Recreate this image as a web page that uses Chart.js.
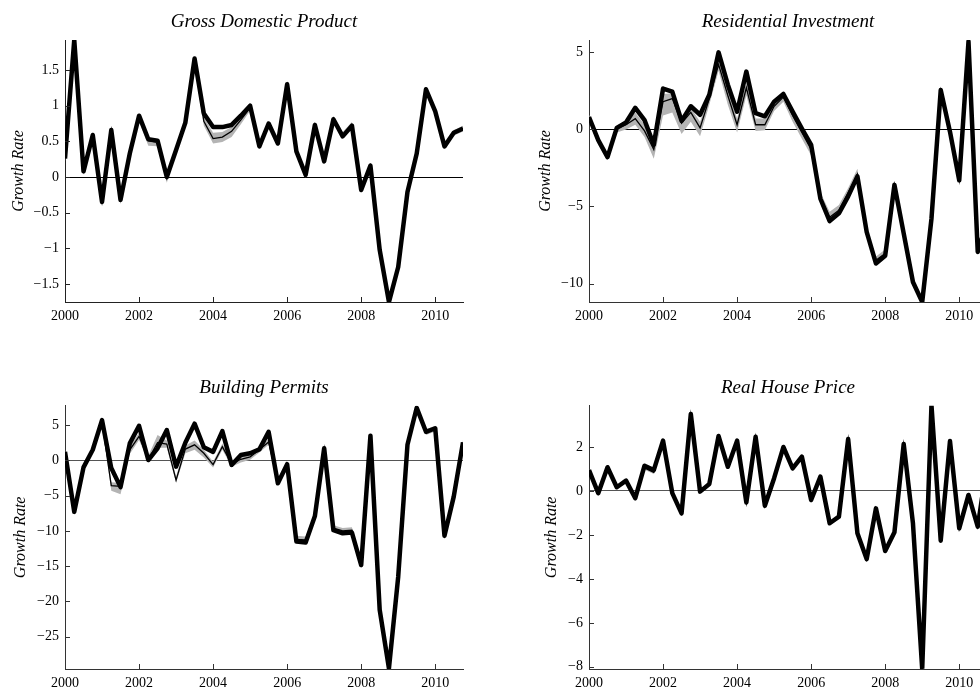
<!DOCTYPE html>
<html>
<head>
<meta charset="utf-8">
<script src="https://cdn.jsdelivr.net/npm/chart.js@4.4.1/dist/chart.umd.min.js"></script>
<style>
  html, body { margin: 0; padding: 0; background: #fff; }
  body { width: 980px; height: 691px; overflow: hidden; position: relative; }
  .panel { position: absolute; }
</style>
</head>
<body>
<div class="panel" style="left:0px;top:0px"><canvas id="c0" width="525" height="345"></canvas></div>
<div class="panel" style="left:524px;top:0px"><canvas id="c1" width="525" height="345"></canvas></div>
<div class="panel" style="left:0px;top:345px"><canvas id="c2" width="525" height="346"></canvas></div>
<div class="panel" style="left:524px;top:345px"><canvas id="c3" width="525" height="346"></canvas></div>
<script>
// Quarterly observations, 2000Q1 - 2010Q4
const quarters = [
  '2000Q1','2000Q2','2000Q3','2000Q4','2001Q1','2001Q2','2001Q3','2001Q4',
  '2002Q1','2002Q2','2002Q3','2002Q4','2003Q1','2003Q2','2003Q3','2003Q4',
  '2004Q1','2004Q2','2004Q3','2004Q4','2005Q1','2005Q2','2005Q3','2005Q4',
  '2006Q1','2006Q2','2006Q3','2006Q4','2007Q1','2007Q2','2007Q3','2007Q4',
  '2008Q1','2008Q2','2008Q3','2008Q4','2009Q1','2009Q2','2009Q3','2009Q4',
  '2010Q1','2010Q2','2010Q3','2010Q4'
];
const yearTicks = [2000, 2002, 2004, 2006, 2008, 2010];

// Gross Domestic Product
const gdpActual = [0.26, 1.92, 0.08, 0.59, -0.35, 0.66, -0.32, 0.33, 0.86, 0.53, 0.51, 0.00, 0.38, 0.76, 1.66, 0.89, 0.70, 0.70, 0.73, 0.86, 1.00, 0.43, 0.75, 0.47, 1.30, 0.36, 0.03, 0.73, 0.22, 0.81, 0.57, 0.72, -0.18, 0.16, -1.02, -1.75, -1.26, -0.21, 0.33, 1.23, 0.92, 0.43, 0.62, 0.68];
const gdpModel  = [0.26, 1.91, 0.09, 0.58, -0.34, 0.65, -0.30, 0.32, 0.84, 0.51, 0.49, -0.02, 0.38, 0.75, 1.62, 0.78, 0.54, 0.56, 0.64, 0.80, 0.97, 0.43, 0.75, 0.47, 1.28, 0.36, 0.03, 0.73, 0.23, 0.82, 0.59, 0.72, -0.18, 0.16, -1.02, -1.74, -1.26, -0.21, 0.33, 1.23, 0.92, 0.43, 0.62, 0.68];
const gdpLower  = [0.22, 1.87, 0.05, 0.54, -0.38, 0.61, -0.38, 0.28, 0.78, 0.44, 0.43, -0.08, 0.34, 0.71, 1.57, 0.72, 0.47, 0.49, 0.56, 0.74, 0.93, 0.39, 0.71, 0.43, 1.24, 0.32, -0.01, 0.69, 0.19, 0.78, 0.55, 0.68, -0.22, 0.12, -1.06, -1.78, -1.30, -0.25, 0.29, 1.19, 0.88, 0.39, 0.58, 0.64];
const gdpUpper  = [0.30, 1.95, 0.13, 0.62, -0.30, 0.69, -0.26, 0.36, 0.88, 0.55, 0.53, 0.02, 0.42, 0.79, 1.67, 0.84, 0.62, 0.63, 0.70, 0.86, 1.01, 0.47, 0.79, 0.51, 1.32, 0.40, 0.07, 0.77, 0.27, 0.86, 0.63, 0.77, -0.14, 0.20, -0.98, -1.70, -1.22, -0.17, 0.37, 1.27, 0.96, 0.47, 0.66, 0.72];
const gdpTicks  = [-1.5, -1, -0.5, 0, 0.5, 1, 1.5];
const gdpRange  = [-1.75, 1.92];

// Residential Investment
const resActual = [0.8, -0.7, -1.8, 0.1, 0.45, 1.4, 0.6, -1.0, 2.65, 2.45, 0.55, 1.5, 0.95, 2.25, 5.0, 2.9, 1.15, 3.75, 1.05, 0.85, 1.8, 2.3, 1.15, 0.05, -1.0, -4.5, -5.95, -5.45, -4.35, -3.05, -6.65, -8.7, -8.2, -3.6, -6.75, -9.9, -11.2, -5.8, 2.55, -0.15, -3.3, 5.7, -7.95, -6.0];
const resModel  = [0.75, -0.75, -1.8, 0.05, 0.3, 0.7, -0.1, -1.3, 1.8, 2.0, 0.4, 1.1, 0.1, 2.0, 4.2, 2.2, 0.3, 2.7, 0.3, 0.3, 1.5, 2.1, 0.9, -0.2, -1.3, -4.4, -5.7, -5.25, -4.1, -2.9, -6.6, -8.5, -8.05, -3.6, -6.7, -9.9, -11.15, -5.8, 2.5, -0.15, -3.3, 5.6, -7.8, -5.9];
const resLower  = [0.5, -1.0, -2.0, -0.2, 0.0, 0.3, -0.5, -1.9, 0.9, 1.1, -0.3, 0.5, -0.45, 1.6, 3.8, 1.6, -0.2, 2.2, -0.1, -0.05, 1.2, 1.8, 0.5, -0.6, -1.7, -4.7, -6.0, -5.5, -4.35, -3.1, -6.8, -8.7, -8.3, -3.75, -6.85, -10.05, -11.3, -5.95, 2.35, -0.3, -3.45, 5.45, -7.95, -6.05];
const resUpper  = [0.95, -0.55, -1.6, 0.25, 0.55, 1.1, 0.3, -0.9, 2.3, 2.35, 0.7, 1.4, 0.5, 2.3, 4.6, 2.6, 0.7, 3.1, 0.7, 0.7, 1.8, 2.35, 1.2, 0.1, -0.95, -4.1, -5.35, -4.9, -3.8, -2.55, -6.4, -8.25, -7.8, -3.45, -6.55, -9.75, -11.0, -5.65, 2.65, 0.0, -3.15, 5.75, -7.65, -5.75];
const resTicks  = [-10, -5, 0, 5];
const resRange  = [-11.2, 5.8];

// Building Permits
const bpActual = [1.2, -7.3, -1.0, 1.5, 5.7, -1.1, -3.8, 2.4, 4.9, 0.05, 1.7, 4.3, -0.9, 2.5, 5.2, 1.85, 1.2, 4.15, -0.65, 0.75, 1.0, 1.55, 4.05, -3.25, -0.55, -11.5, -11.65, -7.9, 1.7, -9.9, -10.35, -10.25, -14.85, 3.5, -21.2, -29.5, -16.5, 2.2, 7.45, 4.05, 4.55, -10.7, -5.15, 2.55];
const bpModel  = [1.1, -7.2, -0.9, 1.4, 5.5, -3.6, -3.7, 1.5, 3.4, 0.1, 2.5, 2.3, -2.8, 1.6, 2.2, 1.0, -0.6, 1.95, -0.5, 0.15, 0.5, 1.5, 2.6, -3.1, -0.5, -11.2, -11.3, -7.8, 1.6, -9.6, -10.0, -9.9, -14.7, 3.4, -21.1, -29.4, -16.4, 2.2, 7.4, 4.0, 4.5, -10.6, -5.1, 2.5];
const bpLower  = [0.6, -7.7, -1.3, 1.0, 5.0, -4.3, -4.8, 0.9, 2.9, -0.3, 1.8, 1.8, -3.2, 1.0, 1.5, 0.4, -1.0, 1.5, -0.9, -0.3, 0.1, 1.1, 2.2, -3.5, -0.9, -11.6, -11.7, -8.2, 1.2, -10.0, -10.4, -10.3, -15.1, 3.0, -21.5, -29.8, -16.8, 1.8, 7.0, 3.6, 4.1, -11.0, -5.5, 2.1];
const bpUpper  = [1.5, -6.8, -0.5, 1.8, 5.9, -3.1, -3.2, 2.0, 3.9, 0.6, 3.6, 2.8, -2.3, 2.1, 2.8, 1.5, -0.2, 2.4, -0.1, 0.6, 0.9, 1.9, 3.0, -2.7, -0.1, -10.7, -10.8, -7.4, 2.0, -9.2, -9.6, -9.5, -14.3, 3.8, -20.7, -29.0, -16.0, 2.6, 7.8, 4.4, 4.9, -10.2, -4.7, 2.9];
const bpTicks  = [-25, -20, -15, -10, -5, 0, 5];
const bpRange  = [-29.6, 7.75];

// Real House Price
const hpActual = [0.95, -0.1, 1.08, 0.17, 0.47, -0.33, 1.15, 0.95, 2.29, -0.1, -1.02, 3.5, -0.03, 0.32, 2.5, 1.1, 2.29, -0.52, 2.47, -0.67, 0.58, 2.0, 1.03, 1.56, -0.41, 0.65, -1.47, -1.17, 2.36, -1.92, -3.1, -0.79, -2.73, -1.88, 2.14, -1.47, -8.1, 3.9, -2.26, 2.27, -1.7, -0.18, -1.62, 1.2];
const hpModel  = [0.93, -0.12, 1.06, 0.15, 0.45, -0.35, 1.05, 0.85, 2.25, -0.12, -1.03, 3.45, -0.05, 0.3, 2.45, 1.08, 2.26, -0.54, 2.44, -0.69, 0.56, 1.98, 1.0, 1.53, -0.43, 0.63, -1.49, -1.19, 2.33, -1.94, -3.12, -0.81, -2.75, -1.9, 2.11, -1.49, -8.1, 3.86, -2.28, 2.24, -1.72, -0.2, -1.64, 1.18];
const hpLower  = [0.86, -0.2, 0.98, 0.07, 0.37, -0.43, 0.97, 0.77, 2.17, -0.2, -1.11, 3.37, -0.13, 0.22, 2.37, 1.0, 2.18, -0.62, 2.36, -0.77, 0.48, 1.9, 0.92, 1.45, -0.51, 0.55, -1.57, -1.27, 2.25, -2.02, -3.2, -0.89, -2.83, -1.98, 2.03, -1.57, -8.18, 3.78, -2.36, 2.16, -1.8, -0.28, -1.72, 1.1];
const hpUpper  = [1.0, -0.04, 1.14, 0.23, 0.53, -0.27, 1.13, 0.93, 2.33, -0.04, -0.95, 3.53, 0.03, 0.38, 2.53, 1.16, 2.34, -0.46, 2.52, -0.61, 0.64, 2.06, 1.08, 1.61, -0.35, 0.71, -1.41, -1.11, 2.41, -1.86, -3.04, -0.73, -2.67, -1.82, 2.19, -1.41, -8.02, 3.94, -2.2, 2.32, -1.64, -0.12, -1.56, 1.26];
const hpTicks  = [-8, -6, -4, -2, 0, 2];
const hpRange  = [-8.1, 3.88];

// Panel layout and styling
const panels = [
  { canvas: 'c0', title: 'Gross Domestic Product', actual: gdpActual, model: gdpModel, lower: gdpLower, upper: gdpUpper, ticks: gdpTicks, range: gdpRange, top: 40, bottom: 302, labelGap: 42, zeroColor: '#000', axisColor: '#222' },
  { canvas: 'c1', title: 'Residential Investment', actual: resActual, model: resModel, lower: resLower, upper: resUpper, ticks: resTicks, range: resRange, top: 40, bottom: 302, labelGap: 39, zeroColor: '#000', axisColor: '#333' },
  { canvas: 'c2', title: 'Building Permits', actual: bpActual, model: bpModel, lower: bpLower, upper: bpUpper, ticks: bpTicks, range: bpRange, top: 60.7, bottom: 324, labelGap: 40, zeroColor: '#555', axisColor: '#333' },
  { canvas: 'c3', title: 'Real House Price', actual: hpActual, model: hpModel, lower: hpLower, upper: hpUpper, ticks: hpTicks, range: hpRange, top: 60.7, bottom: 324, labelGap: 33, zeroColor: '#555', axisColor: '#333' }
];

const SERIF = '"Liberation Serif", "Times New Roman", serif';
Chart.defaults.font.family = SERIF;
Chart.defaults.color = '#000';

const quarterValue = q => Number(q.slice(0, 4)) + (Number(q.slice(5)) - 1) / 4;
const xs = quarters.map(quarterValue);
const points = vals => vals.map((v, i) => ({ x: xs[i], y: v }));
const fmt = v => String(v).replace('-', '\u2212');

// Titles, y-axis caption and inward tick marks
const decorations = {
  id: 'decorations',
  afterDraw(chart, args, opts) {
    const { ctx, chartArea: a, scales } = chart;
    ctx.save();
    ctx.fillStyle = '#000';
    ctx.font = 'italic 19px ' + SERIF;
    ctx.textAlign = 'center';
    ctx.textBaseline = 'alphabetic';
    ctx.fillText(opts.title, (a.left + a.right) / 2, a.top - 13);

    ctx.font = 'italic 16px ' + SERIF;
    ctx.translate(a.left - opts.labelGap, (a.top + a.bottom) / 2);
    ctx.rotate(-Math.PI / 2);
    ctx.fillText('Growth Rate', 0, 0);
    ctx.restore();

    ctx.save();
    ctx.strokeStyle = opts.axisColor;
    ctx.lineWidth = 1;
    ctx.beginPath();
    scales.y.ticks.forEach(t => {
      const y = Math.round(scales.y.getPixelForValue(t.value)) + 0.5;
      ctx.moveTo(a.left, y);
      ctx.lineTo(a.left + 5, y);
    });
    scales.x.ticks.forEach(t => {
      const x = Math.round(scales.x.getPixelForValue(t.value)) + 0.5;
      ctx.moveTo(x, a.bottom);
      ctx.lineTo(x, a.bottom - 5);
    });
    ctx.stroke();
    ctx.restore();
  }
};

panels.forEach(p => {
  const canvas = document.getElementById(p.canvas);
  const W = canvas.width, H = canvas.height;
  new Chart(canvas, {
    type: 'line',
    data: {
      datasets: [
        { data: points(p.actual), borderColor: '#000', borderWidth: 4.5, pointRadius: 0, tension: 0, fill: false, borderJoinStyle: 'round' },
        { data: points(p.model), borderColor: '#000', borderWidth: 1.3, pointRadius: 0, tension: 0, fill: false },
        { data: points(p.lower), borderColor: 'rgba(0,0,0,0)', borderWidth: 0, pointRadius: 0, tension: 0, fill: false },
        { data: points(p.upper), borderColor: 'rgba(0,0,0,0)', borderWidth: 0, pointRadius: 0, tension: 0, fill: '-1', backgroundColor: '#b4b4b4' }
      ]
    },
    options: {
      responsive: false,
      animation: false,
      devicePixelRatio: 1,
      layout: { padding: { left: 0, right: W - 463, top: p.top, bottom: H - p.bottom - 20 } },
      plugins: {
        legend: { display: false },
        tooltip: { enabled: false },
        decorations: { title: p.title, labelGap: p.labelGap, axisColor: p.axisColor }
      },
      scales: {
        x: {
          type: 'linear',
          min: 2000, max: 2010.75,
          afterBuildTicks: s => { s.ticks = yearTicks.map(v => ({ value: v })); },
          afterFit: s => { s.height = 20; },
          ticks: { font: { size: 14 }, padding: 6, maxRotation: 0, autoSkip: false, callback: v => String(v) },
          grid: { display: false, drawTicks: false },
          border: { display: true, color: p.axisColor, width: 1 }
        },
        y: {
          min: p.range[0], max: p.range[1],
          afterBuildTicks: s => { s.ticks = p.ticks.map(v => ({ value: v })); },
          afterFit: s => { s.width = 65; },
          ticks: { font: { size: 14 }, padding: 6, autoSkip: false, callback: v => fmt(v) },
          grid: {
            display: true, drawTicks: false,
            color: c => (c.tick && c.tick.value === 0) ? p.zeroColor : 'rgba(0,0,0,0)',
            lineWidth: 1
          },
          border: { display: true, color: p.axisColor, width: 1 }
        }
      }
    },
    plugins: [decorations]
  });
});
</script>
</body>
</html>
